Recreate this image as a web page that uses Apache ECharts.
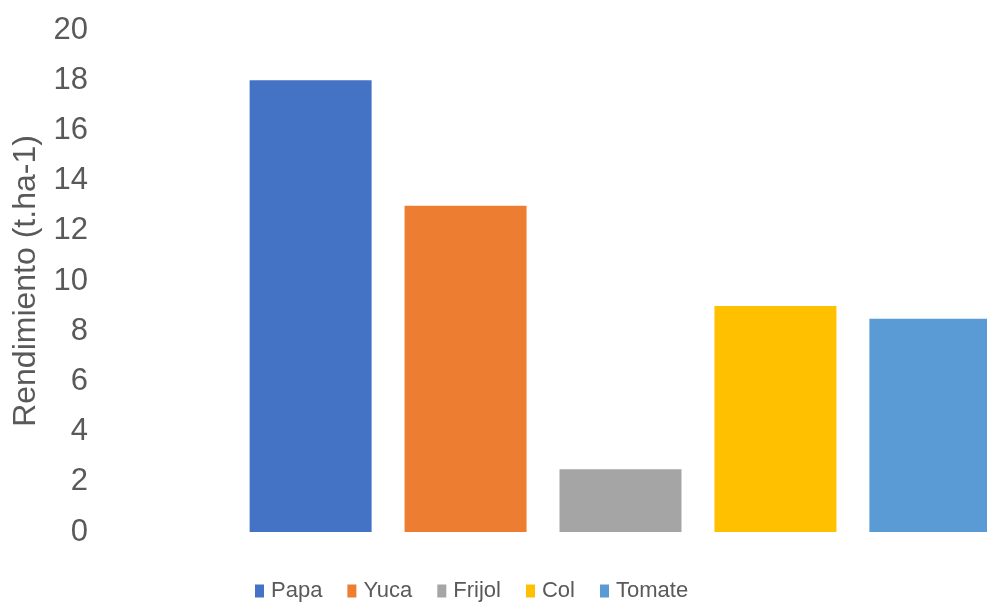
<!DOCTYPE html>
<html>
<head>
<meta charset="utf-8">
<script src="https://cdn.jsdelivr.net/npm/echarts@6/dist/echarts.min.js"></script>
<style>
  html, body { margin: 0; padding: 0; background: #fff; overflow: hidden; }
  /* el grafico original esta recortado a la derecha: el lienzo es mas ancho que la ventana */
  #main { width: 1145px; height: 604px; }
</style>
</head>
<body>
<div id="main"></div>
<script>
// cultivos y rendimiento
const cultivos = ['Papa', 'Yuca', 'Frijol', 'Col', 'Tomate'];
const rendimiento = [18, 13, 2.5, 9, 8.5];
const colores = ['#4472C4', '#ED7D31', '#A5A5A5', '#FFC000', '#5B9BD5'];
const categoria = [''];

const chart = echarts.init(document.getElementById('main'));

const series = cultivos.map((nombre, i) => ({
  name: nombre,
  type: 'bar',
  data: [rendimiento[i]],
  barWidth: 122,
  barGap: '27%',
  itemStyle: { color: colores[i] }
}));

const option = {
  animation: false,
  grid: { left: 96, right: 0, top: 30, bottom: 72, containLabel: false },
  legend: {
    data: cultivos,
    left: 250,
    top: 575,
    icon: 'rect',
    itemWidth: 9,
    itemHeight: 13,
    itemGap: 25,
    textStyle: { color: '#595959', fontSize: 22, padding: [0, 0, 0, 2], fontFamily: 'Liberation Sans, Arial' }
  },
  xAxis: {
    type: 'category',
    data: categoria,
    axisLine: { show: false },
    axisTick: { show: false },
    axisLabel: { show: false }
  },
  yAxis: {
    type: 'value',
    min: 0,
    max: 20,
    interval: 2,
    name: 'Rendimiento (t.ha-1)',
    nameLocation: 'middle',
    nameRotate: 90,
    nameGap: 48,
    nameTextStyle: { color: '#595959', fontSize: 32, fontFamily: 'Liberation Sans, Arial' },
    axisLine: { show: false },
    axisTick: { show: false },
    splitLine: { show: false },
    axisLabel: { color: '#595959', fontSize: 31, margin: 8, fontFamily: 'Liberation Sans, Arial' }
  },
  series: series
};

chart.setOption(option);
</script>
</body>
</html>
